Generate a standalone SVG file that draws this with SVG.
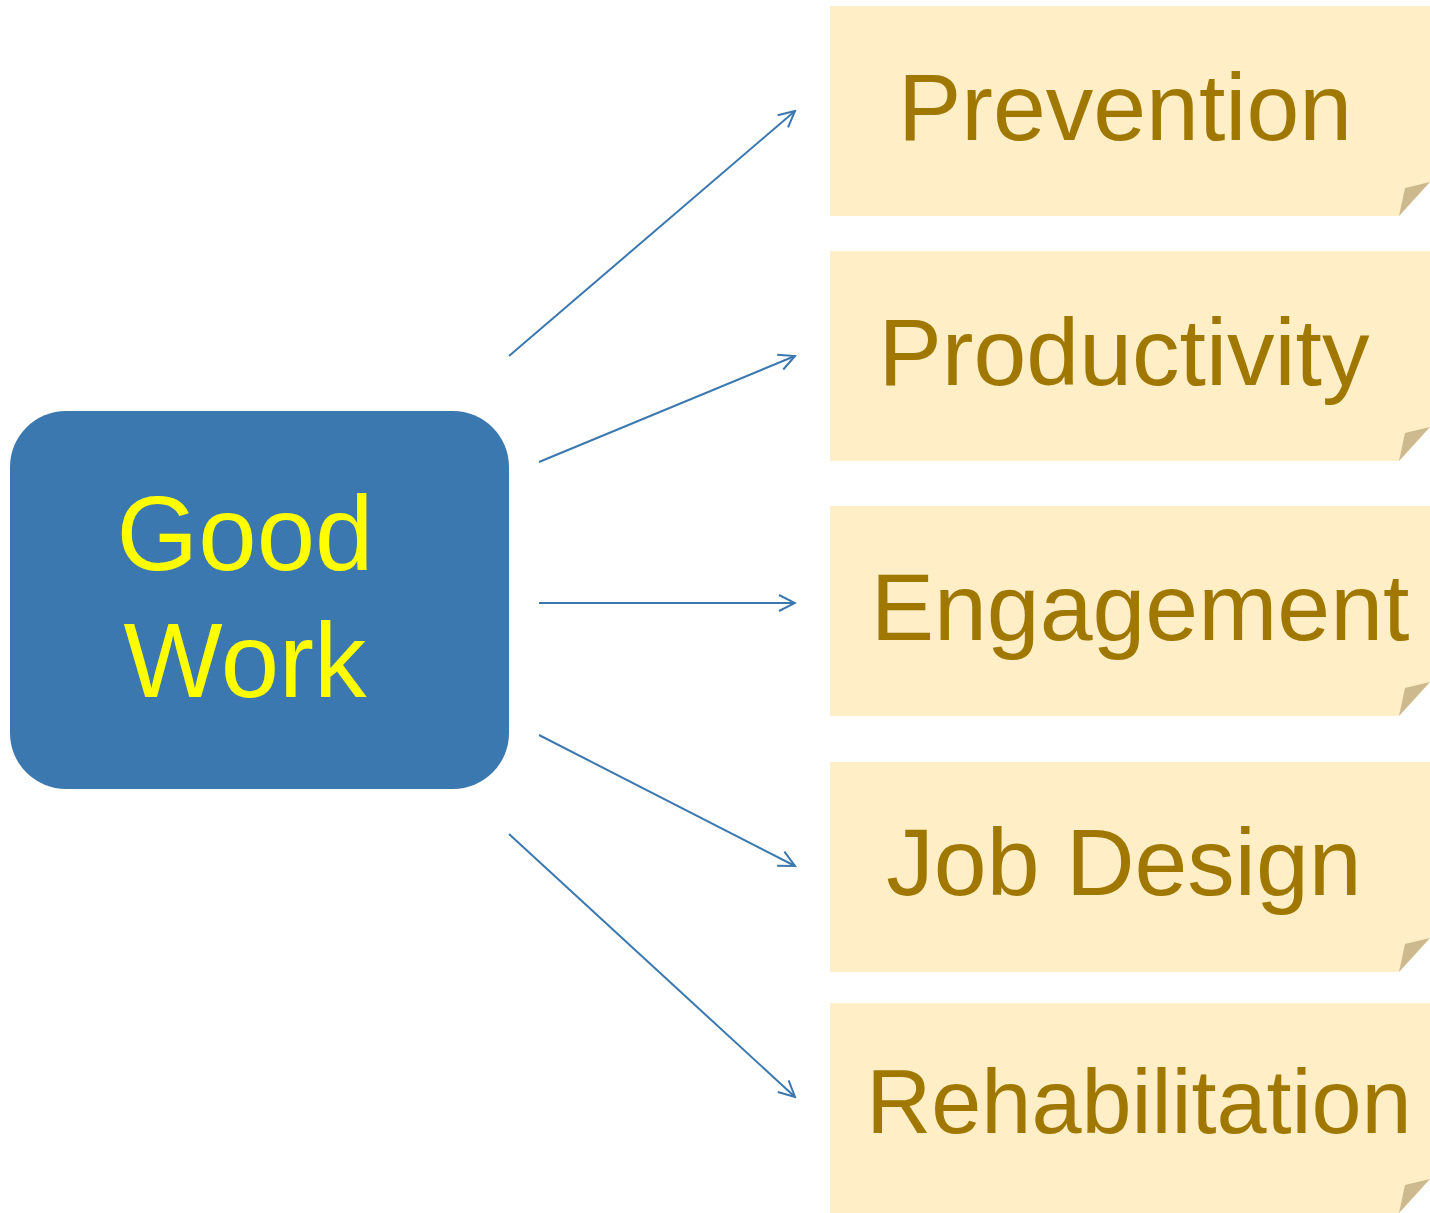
<svg xmlns="http://www.w3.org/2000/svg" width="1430" height="1213" viewBox="0 0 1430 1213">
  <style>
    .note { fill: #FFEEC6; }
    .fold { fill: #CDB98E; }
    .label { font-family: "Liberation Sans", Arial, sans-serif; font-size: 95px; fill: #A07800; text-anchor: middle; }
    .hub-label { font-family: "Liberation Sans", Arial, sans-serif; font-size: 105px; fill: #FFFF00; text-anchor: middle; }
    .link { stroke: #3A78AF; stroke-width: 2; fill: none; marker-end: url(#open-arrow); }
  </style>
  <defs>
    <marker id="open-arrow" viewBox="0 0 20 20" refX="18" refY="10" markerWidth="20" markerHeight="20" markerUnits="userSpaceOnUse" orient="auto">
      <path d="M2,2 L18,10 L2,18" fill="none" stroke="#3A78AF" stroke-width="2"/>
    </marker>
    <!-- sticky note with a curled bottom-right corner, 600 x 210 -->
    <g id="note-shape">
      <path class="note" d="M0,0 H600 V176 L569,210 H0 Z"/>
      <path class="fold" d="M569,210 L575,182 L600,176 Z"/>
    </g>
  </defs>

  <rect width="1430" height="1213" fill="#FFFFFF"/>

  <g id="hub">
    <rect x="10" y="411" width="499" height="378" rx="56" ry="56" fill="#3A78AF"/>
    <text class="hub-label" x="245" y="570">Good</text>
    <text class="hub-label" x="245" y="697">Work</text>
  </g>

  <g id="connectors">
    <line class="link" x1="509" y1="356" x2="795" y2="111"/>
    <line class="link" x1="539" y1="462" x2="795" y2="356"/>
    <line class="link" x1="539" y1="603" x2="795" y2="603"/>
    <line class="link" x1="539" y1="735" x2="795" y2="866"/>
    <line class="link" x1="509" y1="834" x2="795" y2="1097"/>
  </g>

  <g id="prevention" transform="translate(830,6)">
    <use href="#note-shape"/>
    <text class="label" x="295" y="134">Prevention</text>
  </g>
  <g id="productivity" transform="translate(830,251)">
    <use href="#note-shape"/>
    <text class="label" x="294" y="134">Productivity</text>
  </g>
  <g id="engagement" transform="translate(830,506)">
    <use href="#note-shape"/>
    <text class="label" x="310" y="134">Engagement</text>
  </g>
  <g id="job-design" transform="translate(830,762)">
    <use href="#note-shape"/>
    <text class="label" x="294" y="133">Job Design</text>
  </g>
  <g id="rehabilitation" transform="translate(830,1003)">
    <use href="#note-shape"/>
    <text class="label" x="309" y="130" style="font-size:90px">Rehabilitation</text>
  </g>
</svg>
